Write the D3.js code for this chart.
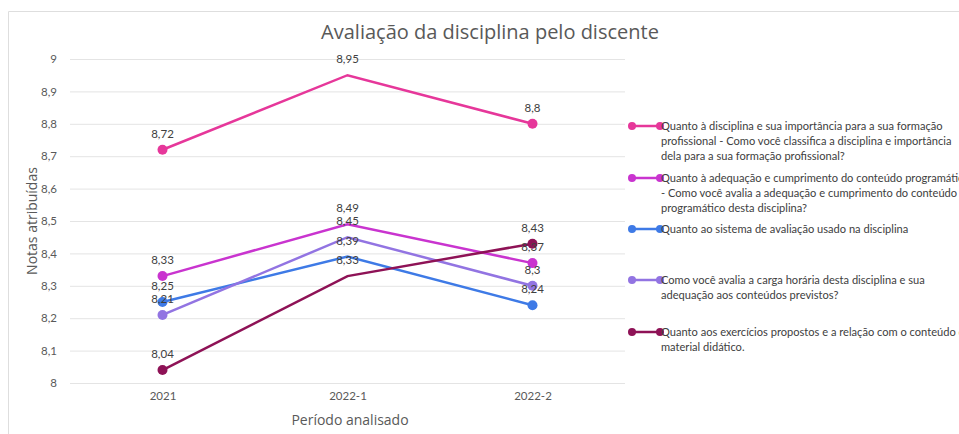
<!DOCTYPE html>
<html lang="pt">
<head>
	<meta charset="utf-8">
	<script src="https://d3js.org/d3.v7.min.js"></script>
	<style>
		body { margin: 0; background: #fff; }
	</style>
	<title>Avaliação da disciplina</title>
</head>
<body>
	<script type="text/javascript">
		// data
		var periods = ["2021", "2022-1", "2022-2"];
		var serie1 = [8.72, 8.95, 8.8];
		var serie2 = [8.33, 8.49, 8.37];
		var serie3 = [8.25, 8.39, 8.24];
		var serie4 = [8.21, 8.45, 8.3];
		var serie5 = [8.04, 8.33, 8.43];
		var yTicks = [8, 8.1, 8.2, 8.3, 8.4, 8.5, 8.6, 8.7, 8.8, 8.9, 9];
		var legendLines = [
			["Quanto à disciplina e sua importância para a sua formação", "profissional - Como você classifica a disciplina e importância", "dela para a sua formação profissional?"],
			["Quanto à adequação e cumprimento do conteúdo programático", "- Como você avalia a adequação e cumprimento do conteúdo", "programático desta disciplina?"],
			["Quanto ao sistema de avaliação usado na disciplina"],
			["Como você avalia a carga horária desta disciplina e sua", "adequação aos conteúdos previstos?"],
			["Quanto aos exercícios propostos e a relação com o conteúdo do", "material didático."]
		];
		var colors = ["#e6379a", "#c934cf", "#3e7ae6", "#9274e2", "#8e1256"];
		var series = [serie1, serie2, serie3, serie4, serie5];

		var width = 959;
		var height = 434;
		var smallFont = "Lato, 'Open Sans', sans-serif";

		var svg = d3.select("body")
			.append("svg")
			.attr("width", width)
			.attr("height", height)
			.style("font-family", "'Open Sans', sans-serif");

		// frame
		svg.append("path")
			.attr("d", "M8.5," + height + "V11.5H" + width)
			.style("fill", "none")
			.style("stroke", "#dedede");

		var x = d3.scalePoint()
			.domain(periods)
			.range([70, 625])
			.padding(0.5);

		var y = d3.scaleLinear()
			.domain([8, 9])
			.range([383, 59]);

		var fmt = function(v) { return String(+v.toFixed(2)).replace(".", ","); };

		// gridlines + y tick labels
		svg.append("g")
			.attr("transform", "translate(70,0)")
			.call(d3.axisLeft(y).tickValues(yTicks).tickSize(-555).tickFormat(fmt))
			.call(function(g) { g.select(".domain").remove(); })
			.call(function(g) {
				g.selectAll("line").style("stroke", "#e4e4e4");
				g.selectAll("text")
					.attr("x", -13)
					.style("fill", "#595959")
					.style("font-size", "11.5px")
					.style("font-family", smallFont);
			});

		// x axis labels
		svg.append("g")
			.attr("transform", "translate(0,383)")
			.call(d3.axisBottom(x).tickSize(0).tickPadding(9))
			.call(function(g) { g.select(".domain").remove(); })
			.call(function(g) {
				g.selectAll("text")
					.style("fill", "#595959")
					.style("font-size", "11.5px")
					.style("font-family", smallFont);
			});

		// titles
		svg.append("text")
			.attr("x", 490)
			.attr("y", 39)
			.attr("text-anchor", "middle")
			.style("font-size", "20px")
			.style("fill", "#595959")
			.text("Avaliação da disciplina pelo discente");

		svg.append("text")
			.attr("x", 350)
			.attr("y", 425)
			.attr("text-anchor", "middle")
			.style("font-size", "14px")
			.style("fill", "#595959")
			.text("Período analisado");

		svg.append("text")
			.attr("transform", "translate(37,221) rotate(-90)")
			.attr("text-anchor", "middle")
			.style("font-size", "14px")
			.style("fill", "#595959")
			.text("Notas atribuídas");

		var line = d3.line()
			.x(function(d, i) { return x(periods[i]); })
			.y(function(d) { return y(d); });

		// lines, with markers only at the first and last period
		series.forEach(function(s, k) {
			var g = svg.append("g");
			g.append("path")
				.datum(s)
				.attr("d", line)
				.style("fill", "none")
				.style("stroke", colors[k])
				.style("stroke-width", 2.5);

			var ends = [0, s.length - 1];
			g.selectAll("circle")
				.data(ends)
				.enter()
				.append("circle")
				.attr("cx", function(i) { return x(periods[i]); })
				.attr("cy", function(i) { return y(s[i]); })
				.attr("r", 5)
				.style("fill", colors[k]);
		});

		// data labels
		series.forEach(function(s, k) {
			svg.append("g")
				.selectAll("text")
				.data(s)
				.enter()
				.append("text")
				.attr("x", function(d, i) { return x(periods[i]); })
				.attr("y", function(d) { return y(d) - 12; })
				.attr("text-anchor", "middle")
				.style("font-size", "11.5px")
				.style("fill", "#404040")
				.style("font-family", smallFont)
				.text(function(d) { return fmt(d); });
		});

		// legend
		var legendY = [126, 178, 229, 280, 332];
		var legend = svg.append("g")
			.selectAll("g")
			.data(legendLines)
			.enter()
			.append("g")
			.attr("transform", function(d, i) { return "translate(632," + legendY[i] + ")"; });

		legend.append("line")
			.attr("x1", 0)
			.attr("x2", 28)
			.style("stroke", function(d, i) { return colors[i]; })
			.style("stroke-width", 2.5);
		legend.append("circle").attr("r", 4).style("fill", function(d, i) { return colors[i]; });
		legend.append("circle").attr("cx", 28).attr("r", 4).style("fill", function(d, i) { return colors[i]; });

		legend.append("text")
			.attr("x", 29)
			.attr("y", 4)
			.style("font-size", "11.1px")
			.style("fill", "#404040")
			.style("font-family", smallFont)
			.selectAll("tspan")
			.data(function(d) { return d; })
			.enter()
			.append("tspan")
			.attr("x", 29)
			.attr("dy", function(d, i) { return i === 0 ? 0 : 14.8; })
			.text(function(d) { return d; });
	</script>
</body>
</html>
